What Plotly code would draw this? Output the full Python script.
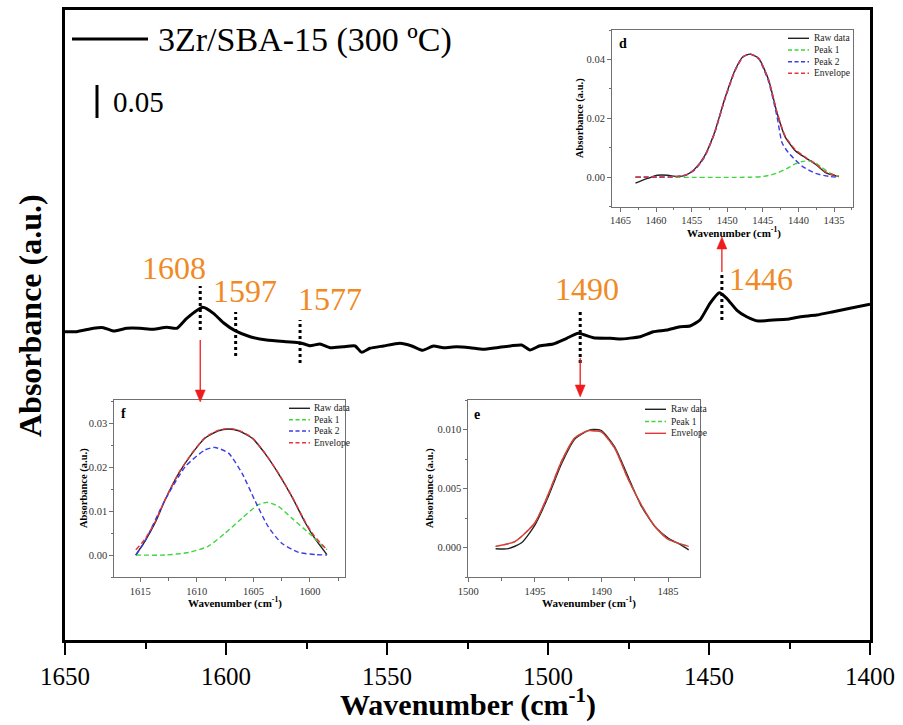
import plotly.graph_objects as go

W, H = 903, 725
def px(x): return x / W
def py(y): return 1 - y / H

# ---------------- data ----------------
main_wn = [1650.0,1646.4,1641.2,1638.1,1635.0,1630.8,1626.7,1622.6,1618.4,1615.3,1612.2,1607.2,1603.9,1600.8,
           1597.2,1592.5,1587.4,1581.2,1577.0,1573.9,1570.8,1567.7,1563.6,1559.9,1557.9,1555.3,1551.1,1546.0,
           1542.3,1538.9,1535.6,1532.5,1528.4,1524.2,1520.1,1515.9,1511.3,1508.2,1505.6,1502.5,1498.4,1494.2,
           1490.6,1485.9,1480.7,1477.6,1471.4,1467.3,1463.1,1459.0,1455.9,1452.8,1449.7,1446.8,1444.5,1441.4,
           1438.3,1434.7,1430.0,1425.9,1421.7,1416.6,1411.4,1406.2,1400.0]
main_abs = [0.4534,0.4534,0.4584,0.4593,0.4544,0.4584,0.4584,0.4569,0.4599,0.4584,0.4731,0.4893,0.4804,0.4666,
            0.4549,0.4460,0.4412,0.4387,0.4372,0.4328,0.4353,0.4299,0.4313,0.4324,0.4231,0.4290,0.4324,0.4363,
            0.4324,0.4260,0.4324,0.4299,0.4313,0.4299,0.4275,0.4299,0.4328,0.4338,0.4265,0.4328,0.4353,0.4437,
            0.4510,0.4446,0.4437,0.4426,0.4460,0.4534,0.4559,0.4607,0.4618,0.4706,0.4951,0.5107,0.5025,0.4853,
            0.4754,0.4691,0.4706,0.4716,0.4754,0.4779,0.4828,0.4878,0.4937]
series_name = "3Zr/SBA-15 (300 ºC)"
peak_positions = [1608, 1597, 1577, 1490, 1446]
peak_labels = ["1608", "1597", "1577", "1490", "1446"]

# inset d
d_raw_x = [1462.9,1461.2,1459.8,1458.4,1457.0,1455.8,1454.6,1453.2,1451.8,1450.4,1448.9,1447.8,1446.8,1445.6,
           1444.2,1443.0,1441.9,1440.4,1439.0,1437.6,1436.2,1434.3]
d_raw_y = [-0.0020,-0.0004,0.0007,0.0007,0.0002,0.0007,0.0027,0.0072,0.0151,0.0263,0.0364,0.0409,0.0418,0.0404,
           0.0331,0.0218,0.0139,0.0089,0.0066,0.0044,0.0016,0.0002]
d_p1_x = [1462.9,1447.0,1445.2,1444.0,1442.8,1441.6,1440.4,1439.4,1438.5,1437.6,1436.7,1435.5,1434.3]
d_p1_y = [0.0,0.0,0.0002,0.0007,0.0016,0.0030,0.0046,0.0054,0.0055,0.0048,0.0033,0.0013,0.0002]
d_p2_x = [1462.9,1458.0,1456.0,1454.6,1453.2,1451.8,1450.4,1448.9,1447.8,1446.8,1445.6,1444.2,1443.0,1442.3,
          1441.4,1440.4,1439.5,1437.6,1435.7,1434.3]
d_p2_y = [0.0,0.0001,0.0006,0.0024,0.0068,0.0148,0.0260,0.0362,0.0408,0.0418,0.0402,0.0325,0.0205,0.0117,
          0.0083,0.0058,0.0038,0.0013,0.0003,0.0]
d_env_x = [1462.9,1460.0,1457.5,1455.8,1454.6,1453.2,1451.8,1450.4,1448.9,1447.8,1446.8,1445.6,1444.2,1443.0,
           1441.9,1440.4,1439.0,1437.6,1436.2,1434.3]
d_env_y = [0.0,0.0001,0.0002,0.0008,0.0026,0.0070,0.0150,0.0262,0.0363,0.0409,0.0419,0.0404,0.0331,0.0220,
           0.0142,0.0093,0.0068,0.0046,0.0018,0.0003]

# inset f
f_raw_x = [1615.4,1614.6,1613.7,1612.8,1611.6,1610.4,1609.3,1608.1,1607.2,1606.3,1605.1,1604.0,1602.8,1601.6,
           1600.4,1599.6,1598.5]
f_raw_y = [0.0000,0.0031,0.0073,0.0126,0.0186,0.0232,0.0266,0.0283,0.0287,0.0283,0.0266,0.0232,0.0186,0.0133,
           0.0073,0.0039,0.0001]
f_p1_x = [1615.4,1612.8,1610.7,1609.0,1607.5,1606.0,1604.6,1603.8,1602.8,1601.6,1600.1,1598.5]
f_p1_y = [0.0000,0.0000,0.0006,0.0020,0.0050,0.0084,0.0114,0.0120,0.0111,0.0084,0.0050,0.0012]
f_p2_x = [1615.4,1614.6,1612.8,1611.0,1609.3,1608.4,1607.2,1606.0,1604.9,1603.7,1602.5,1601.0,1599.5,1598.5]
f_p2_y = [0.0000,0.0031,0.0126,0.0202,0.0239,0.0245,0.0232,0.0186,0.0126,0.0065,0.0027,0.0006,0.0001,0.0000]
f_env_x = [1615.4,1614.6,1613.7,1612.8,1611.6,1610.4,1609.3,1608.1,1607.2,1606.3,1605.1,1604.0,1602.8,1601.6,
           1600.4,1599.6,1598.5]
f_env_y = [0.0012,0.0036,0.0075,0.0127,0.0187,0.0233,0.0267,0.0284,0.0288,0.0284,0.0267,0.0233,0.0187,0.0134,
           0.0075,0.0043,0.0012]

# inset e
e_raw_x = [1497.95,1497.0,1496.0,1495.0,1494.0,1493.0,1492.0,1491.0,1490.6,1490.0,1489.0,1488.0,1487.0,1486.0,
           1485.0,1484.0,1483.45]
e_raw_y = [-0.0001,-0.0001,0.0004,0.0019,0.0043,0.0071,0.0092,0.0099,0.0100,0.0099,0.0085,0.0060,0.0035,0.0018,
           0.0008,0.0002,-0.0002]
e_env_x = [1497.95,1496.5,1495.0,1494.0,1493.0,1492.0,1491.0,1490.6,1490.0,1489.0,1488.0,1487.0,1486.0,1485.0,1483.45]
e_env_y = [0.0001,0.0005,0.0021,0.0045,0.0073,0.0093,0.0099,0.0099,0.0098,0.0084,0.0058,0.0036,0.0018,0.0007,0.0001]
e_p1_x = e_env_x
e_p1_y = e_env_y

# ---------------- styles ----------------
SERIF = "Liberation Serif"
ORANGE = "#F08A24"
GREEN = "#3DD63D"
BLUE = "#3C3CE6"
RED = "#E8343C"
DASH = "5px,3px"

MAIN_X_RANGE = [1650, 1400]
MAIN_PX = (65, 870)          # pixel span of the main plot area

fig = go.Figure()

def spl(x, y, color, width, dash="solid", xa="x", ya="y", smooth=0.6):
    fig.add_trace(go.Scatter(x=x, y=y, mode="lines", xaxis=xa, yaxis=ya, showlegend=False,
                             line=dict(color=color, width=width, dash=dash, shape="spline", smoothing=smooth),
                             hoverinfo="skip"))

# main
spl(main_wn, main_abs, "black", 3, smooth=0.5)
# inset d (axes x2/y2)
spl(d_raw_x, d_raw_y, "#222222", 1.4, xa="x2", ya="y2")
spl(d_p1_x, d_p1_y, GREEN, 1.4, DASH, xa="x2", ya="y2")
spl(d_p2_x, d_p2_y, BLUE, 1.4, DASH, xa="x2", ya="y2")
spl(d_env_x, d_env_y, RED, 1.4, DASH, xa="x2", ya="y2")
# inset f (x3/y3)
spl(f_raw_x, f_raw_y, "#222222", 1.4, xa="x3", ya="y3")
spl(f_p1_x, f_p1_y, GREEN, 1.4, DASH, xa="x3", ya="y3")
spl(f_p2_x, f_p2_y, BLUE, 1.4, DASH, xa="x3", ya="y3")
spl(f_env_x, f_env_y, RED, 1.4, DASH, xa="x3", ya="y3")
# inset e (x4/y4)
spl(e_raw_x, e_raw_y, "#222222", 1.4, xa="x4", ya="y4")
spl(e_p1_x, e_p1_y, GREEN, 1.4, DASH, xa="x4", ya="y4")
spl(e_env_x, e_env_y, RED, 1.4, xa="x4", ya="y4")

def inset_x(domain, rng, dtick, minor, anchor):
    return dict(domain=domain, range=rng, dtick=dtick, tick0=0, showgrid=False, zeroline=False, anchor=anchor,
                automargin=False,
                showline=True, linecolor="#707070", linewidth=1, mirror=True,
                ticks="outside", ticklen=4, tickwidth=1, tickcolor="#707070",
                minor=dict(dtick=minor, tick0=0, ticks="outside", ticklen=2.5, tickcolor="#707070"),
                tickfont=dict(family=SERIF, size=10.5, color="#333333"))

def inset_y(domain, rng, dtick, minor, fmt, anchor):
    return dict(domain=domain, range=rng, dtick=dtick, tick0=0, tickformat=fmt, showgrid=False, zeroline=False,
                automargin=False,
                showline=True, linecolor="#707070", linewidth=1, mirror=True, anchor=anchor,
                ticks="outside", ticklen=4, tickwidth=1, tickcolor="#707070",
                minor=dict(dtick=minor, tick0=0, ticks="outside", ticklen=2.5, tickcolor="#707070"),
                tickfont=dict(family=SERIF, size=10.5, color="#333333"))

main_dom_x = [px(MAIN_PX[0]), px(MAIN_PX[1])]
main_dom_y = [py(640), py(10)]
d_dom_x = [px(612), px(852.5)]
d_dom_y = [py(206.7), py(30)]
f_dom_x = [px(114.3), px(345)]
f_dom_y = [py(577), py(400)]
e_dom_x = [px(468.3), px(700)]
e_dom_y = [py(577), py(400)]

fig.update_layout(
    width=W, height=H, margin=dict(l=0, r=0, t=0, b=0, autoexpand=False),
    paper_bgcolor="white", plot_bgcolor="white", showlegend=False,
    xaxis=dict(domain=main_dom_x, range=MAIN_X_RANGE, dtick=50, tick0=1400, showgrid=False, zeroline=False,
               automargin=False,
               showline=True, linecolor="black", linewidth=2.5, mirror=True,
               ticks="outside", ticklen=12, tickwidth=2, tickcolor="black",
               minor=dict(dtick=25, tick0=1400, ticks="outside", ticklen=6, tickwidth=2, tickcolor="black"),
               tickfont=dict(family=SERIF, size=25, color="black")),
    yaxis=dict(domain=main_dom_y, range=[0, 0.9265], showgrid=False, zeroline=False, showticklabels=False,
               automargin=False,
               ticks="", showline=True, linecolor="black", linewidth=2.5, mirror=True),
    xaxis2=inset_x(d_dom_x, [1466.2, 1432.4], 5, 2.5, "y2"),
    yaxis2=inset_y(d_dom_y, [-0.01, 0.05], 0.02, 0.01, ".2f", "x2"),
    xaxis3=inset_x(f_dom_x, [1617.3, 1596.9], 5, 2.5, "y3"),
    yaxis3=inset_y(f_dom_y, [-0.005, 0.0353], 0.01, 0.005, ".2f", "x3"),
    xaxis4=inset_x(e_dom_x, [1500, 1482.6], 5, 2.5, "y4"),
    yaxis4=inset_y(e_dom_y, [-0.0025, 0.0125], 0.005, 0.0025, ".3f", "x4"),
)

shapes = []
annots = []

def ann(x, y, text, size, color="black", bold=False, angle=0, xanchor="center", family=SERIF):
    annots.append(dict(x=px(x), y=py(y), xref="paper", yref="paper", text=("<b>%s</b>" % text) if bold else text,
                       showarrow=False, xanchor=xanchor, yanchor="middle", textangle=angle,
                       font=dict(family=family, size=size, color=color)))

# main titles
ann(468, 702, "Wavenumber (cm<sup>-1</sup>)", 30, bold=True)
ann(30, 316, "Absorbance (a.u.)", 32, bold=True, angle=-90)

# main legend and scale bar
shapes.append(dict(type="line", xref="paper", yref="paper", x0=px(72), x1=px(148), y0=py(39), y1=py(39),
                   line=dict(color="black", width=3)))
ann(156, 40, series_name, 34, xanchor="left")
shapes.append(dict(type="line", xref="paper", yref="paper", x0=px(97), x1=px(97), y0=py(85), y1=py(118),
                   line=dict(color="black", width=3)))
ann(111, 102, "0.05", 29, xanchor="left")

# peak markers
dot_spans = [(286, 330), (312, 356), (320, 363), (312, 363), (272, 320)]
label_off = [(-26, 268), (9, 291), (30, 299), (7, 289), (39, 279)]
for wn, lab, (y0, y1), (dx, ly) in zip(peak_positions, peak_labels, dot_spans, label_off):
    shapes.append(dict(type="line", xref="x", yref="paper", x0=wn, x1=wn, y0=py(y1), y1=py(y0),
                       line=dict(color="black", width=3, dash="dot")))
    annots.append(dict(x=wn, y=py(ly), xref="x", yref="paper", text=lab, showarrow=False, xshift=dx,
                       xanchor="center", yanchor="middle", font=dict(family=SERIF, size=32, color=ORANGE)))

# red arrows: (head y, tail y) in pixels; head drawn as a filled triangle
units_per_px = abs(MAIN_X_RANGE[0] - MAIN_X_RANGE[1]) / (MAIN_PX[1] - MAIN_PX[0])
arrow_spec = {1608: (402, 340), 1490: (397, 358), 1446: (237, 272)}
ARROW_RED = "#EE1C1C"
for wn, (hy, ty) in arrow_spec.items():
    sgn = 1 if ty > hy else -1           # +1: arrow points up
    base = hy + sgn * 12
    shapes.append(dict(type="line", xref="x", yref="paper", x0=wn, x1=wn, y0=py(ty), y1=py(base),
                       line=dict(color=ARROW_RED, width=1.3)))
    hw = 5 * units_per_px
    path = "M %f,%f L %f,%f L %f,%f Z" % (wn - hw, py(base), wn + hw, py(base), wn, py(hy))
    shapes.append(dict(type="path", xref="x", yref="paper", path=path, fillcolor=ARROW_RED,
                       line=dict(color=ARROW_RED, width=0.5)))

# inset titles and labels
ann(734, 232, "Wavenumber (cm<sup>-1</sup>)", 11, bold=True)
ann(580, 118, "Absorbance (a.u.)", 10.5, bold=True, angle=-90)
ann(623, 44, "d", 14, bold=True)
ann(234.5, 602, "Wavenumber (cm<sup>-1</sup>)", 11, bold=True)
ann(84, 488, "Absorbance (a.u.)", 10.5, bold=True, angle=-90)
ann(123.5, 413, "f", 14, bold=True)
ann(589, 602, "Wavenumber (cm<sup>-1</sup>)", 11, bold=True)
ann(430, 488, "Absorbance (a.u.)", 10.5, bold=True, angle=-90)
ann(477, 414, "e", 14, bold=True)

# inset legends
def legend_rows(x0, x1, tx, ys, entries):
    for yy, (name, color, dash) in zip(ys, entries):
        shapes.append(dict(type="line", xref="paper", yref="paper", x0=px(x0), x1=px(x1), y0=py(yy), y1=py(yy),
                           line=dict(color=color, width=1.4, dash=dash)))
        ann(tx, yy, name, 9.5, color="#222222", xanchor="left")

LEG_DASH = "4px,2.5px"
legend_rows(788, 809, 812, [38.3, 50, 61.7, 73.3],
            [("Raw data", "#222222", "solid"), ("Peak 1", GREEN, LEG_DASH), ("Peak 2", BLUE, LEG_DASH),
             ("Envelope", RED, LEG_DASH)])
legend_rows(289, 310, 312, [408.3, 419.7, 431, 442.7],
            [("Raw data", "#222222", "solid"), ("Peak 1", GREEN, LEG_DASH), ("Peak 2", BLUE, LEG_DASH),
             ("Envelope", RED, LEG_DASH)])
legend_rows(645, 666, 668.5, [409.3, 421.5, 433.3],
            [("Raw data", "#222222", "solid"), ("Peak 1", GREEN, LEG_DASH), ("Envelope", RED, "solid")])

fig.update_layout(shapes=shapes, annotations=annots)
fig.write_html("out.html")
